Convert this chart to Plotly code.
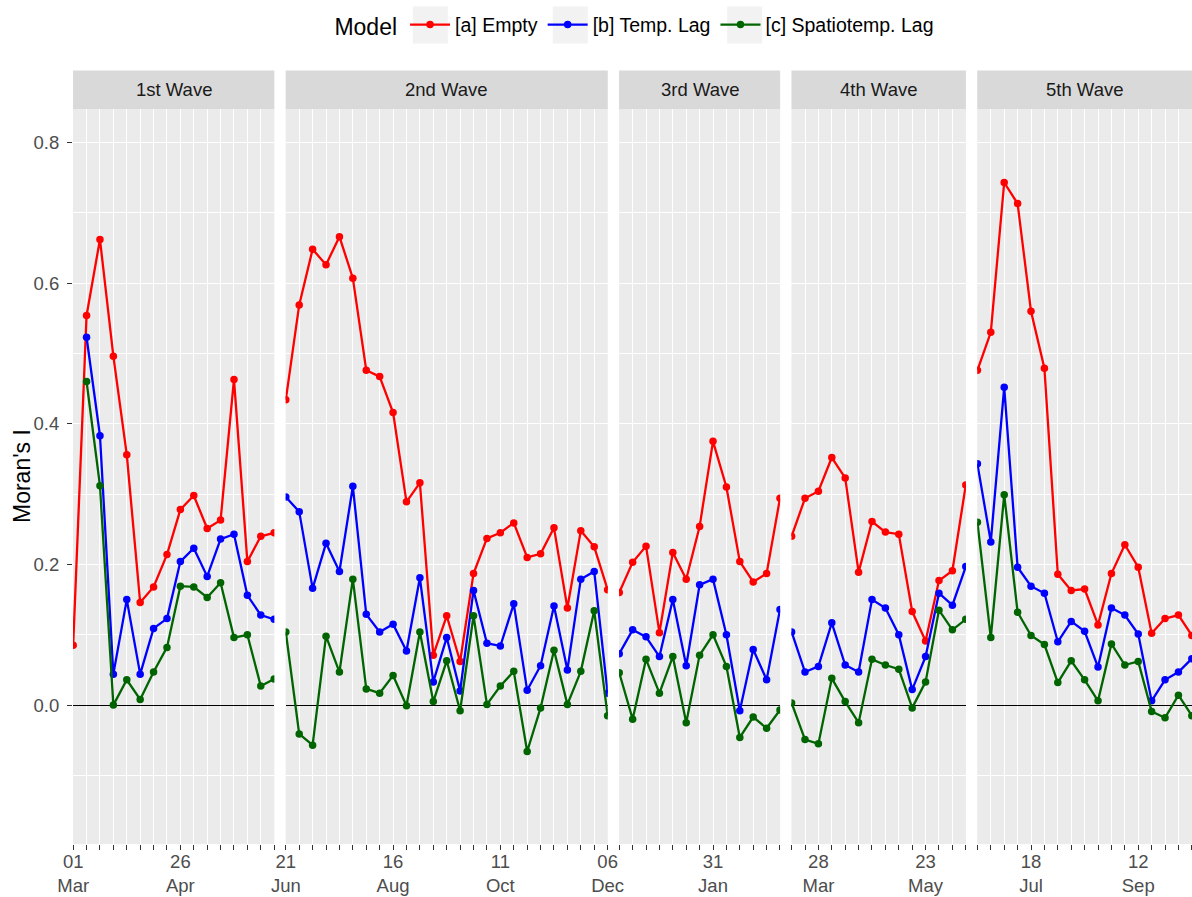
import pandas as pd
import plotly.graph_objects as go

# ---------------- data ----------------
wave_names = ["1st Wave", "2nd Wave", "3rd Wave", "4th Wave", "5th Wave"]
wave_starts = ["2020-03-01", "2020-06-21", "2020-12-13", "2021-03-14", "2021-06-20"]

empty_1 = [0.085, 0.554, 0.662, 0.496, 0.356, 0.146, 0.168, 0.214, 0.278, 0.298, 0.251, 0.263, 0.463, 0.204, 0.240, 0.245]
temp_1 = [None, 0.523, 0.383, 0.044, 0.150, 0.044, 0.109, 0.123, 0.204, 0.223, 0.183, 0.236, 0.243, 0.156, 0.128, 0.122]
spat_1 = [None, 0.460, 0.312, 0.000, 0.036, 0.008, 0.047, 0.082, 0.169, 0.168, 0.153, 0.174, 0.096, 0.100, 0.027, 0.037]

empty_2 = [0.434, 0.569, 0.648, 0.626, 0.666, 0.607, 0.476, 0.467, 0.416, 0.289, 0.316, 0.071, 0.127, 0.062, 0.187, 0.237, 0.245, 0.259, 0.210, 0.215, 0.252, 0.138, 0.248, 0.225, 0.164]
temp_2 = [0.296, 0.275, 0.166, 0.230, 0.190, 0.311, 0.129, 0.104, 0.115, 0.077, 0.181, 0.033, 0.096, 0.020, 0.163, 0.088, 0.084, 0.144, 0.021, 0.056, 0.141, 0.050, 0.179, 0.190, 0.017]
spat_2 = [0.104, -0.041, -0.057, 0.098, 0.047, 0.179, 0.023, 0.017, 0.042, -0.001, 0.104, 0.005, 0.063, -0.008, 0.127, 0.001, 0.027, 0.048, -0.066, -0.004, 0.078, 0.001, 0.048, 0.134, -0.015]

empty_3 = [0.160, 0.203, 0.226, 0.103, 0.217, 0.179, 0.254, 0.375, 0.310, 0.204, 0.175, 0.187, 0.294]
temp_3 = [0.073, 0.107, 0.097, 0.069, 0.150, 0.056, 0.171, 0.179, 0.100, -0.008, 0.079, 0.036, 0.136]
spat_3 = [0.046, -0.020, 0.065, 0.017, 0.069, -0.025, 0.071, 0.100, 0.055, -0.046, -0.017, -0.033, -0.007]

empty_4 = [0.240, 0.294, 0.304, 0.352, 0.323, 0.189, 0.261, 0.246, 0.243, 0.133, 0.091, 0.177, 0.191, 0.313]
temp_4 = [0.104, 0.047, 0.055, 0.117, 0.057, 0.047, 0.150, 0.138, 0.100, 0.022, 0.069, 0.159, 0.142, 0.197]
spat_4 = [0.003, -0.049, -0.055, 0.038, 0.005, -0.025, 0.065, 0.057, 0.051, -0.004, 0.033, 0.135, 0.107, 0.122]

empty_5 = [0.476, 0.530, 0.743, 0.713, 0.560, 0.479, 0.186, 0.163, 0.165, 0.114, 0.187, 0.228, 0.196, 0.102, 0.123, 0.128, 0.099]
temp_5 = [0.343, 0.232, 0.452, 0.196, 0.169, 0.159, 0.090, 0.119, 0.105, 0.054, 0.138, 0.128, 0.101, 0.006, 0.036, 0.047, 0.066]
spat_5 = [0.260, 0.096, 0.299, 0.132, 0.099, 0.086, 0.032, 0.063, 0.036, 0.006, 0.087, 0.057, 0.062, -0.009, -0.018, 0.014, -0.015]

series_names = ["[a] Empty", "[b] Temp. Lag", "[c] Spatiotemp. Lag"]
series_colors = ["#FF0000", "#0000FF", "#006400"]
panel_data = [
    [empty_1, temp_1, spat_1],
    [empty_2, temp_2, spat_2],
    [empty_3, temp_3, spat_3],
    [empty_4, temp_4, spat_4],
    [empty_5, temp_5, spat_5],
]

label_dates = ["2020-03-01", "2020-04-26", "2020-06-21", "2020-08-16", "2020-10-11", "2020-12-06",
               "2021-01-31", "2021-03-28", "2021-05-23", "2021-07-18", "2021-09-12"]
label_texts = ["01<br>Mar", "26<br>Apr", "21<br>Jun", "16<br>Aug", "11<br>Oct", "06<br>Dec",
               "31<br>Jan", "28<br>Mar", "23<br>May", "18<br>Jul", "12<br>Sep"]

y_ticks = [0.0, 0.2, 0.4, 0.6, 0.8]
y_ticktext = ["0.0", "0.2", "0.4", "0.6", "0.8"]
y_minor = [-0.1, 0.1, 0.3, 0.5, 0.7]

# ---------------- layout geometry ----------------
W, H = 1192, 897
ML, MR, MT, MB = 72.5, 0, 108.6, 53.4
paper_w = W - ML - MR
plot_h = H - MT - MB
gap_px = 11.3
weeks = [len(d[0]) - 1 for d in panel_data]
px_week = (paper_w - gap_px * (len(weeks) - 1)) / sum(weeks)

label_map = {pd.Timestamp(d): t for d, t in zip(label_dates, label_texts)}

fig = go.Figure()
FONT = "Liberation Sans, Arial, sans-serif"


def px_to_paper_x(px):
    return (px - ML) / paper_w


def px_to_paper_y(py):
    return (H - MB - py) / plot_h


pos = 0.0
layout_axes = {}
shapes = []
annotations = []
for i, (name, start, data) in enumerate(zip(wave_names, wave_starts, panel_data)):
    n = len(data[0])
    dates = pd.date_range(start, periods=n, freq="7D")
    x0 = pos / paper_w
    x1 = (pos + weeks[i] * px_week) / paper_w
    pos += weeks[i] * px_week + gap_px
    ax = "" if i == 0 else str(i + 1)
    for s, (vals, sname, col) in enumerate(zip(data, series_names, series_colors)):
        fig.add_trace(go.Scatter(
            x=dates, y=vals, mode="lines+markers", name=sname,
            line=dict(color=col, width=2.3), marker=dict(color=col, size=7.5),
            legendgroup=sname, showlegend=(i == 0),
            xaxis="x" + ax, yaxis="y" + ax, connectgaps=False,
        ))
    tickvals = list(dates)
    ticktext = [label_map.get(d, "") for d in dates]
    eps = pd.Timedelta(hours=2)
    layout_axes["xaxis" + ax] = dict(
        domain=[x0, min(x1, 1.0)], anchor="y" + ax, type="date",
        range=[dates[0] - eps, dates[-1] + eps], automargin=False,
        tickmode="array", tickvals=tickvals, ticktext=ticktext,
        showgrid=True, gridcolor="white", gridwidth=1.3,
        ticks="outside", ticklen=5, tickwidth=1, tickcolor="#333333",
        ticklabelstandoff=-4,
        tickfont=dict(size=18.5, color="#4D4D4D", family=FONT),
        zeroline=False, showline=False, fixedrange=True,
    )
    yax = dict(
        domain=[0, 1], anchor="x" + ax, range=[-0.1975, 0.8475], automargin=False,
        tickmode="array", tickvals=y_ticks, ticktext=y_ticktext,
        showgrid=True, gridcolor="white", gridwidth=1.3,
        minor=dict(tickvals=y_minor, showgrid=True, gridcolor="white", gridwidth=0.7, ticks=""),
        zeroline=True, zerolinecolor="black", zerolinewidth=1.1,
        showline=False, fixedrange=True,
    )
    if i == 0:
        yax.update(ticks="outside", ticklen=5, tickwidth=1, tickcolor="#333333",
                   ticklabelstandoff=4,
                   tickfont=dict(size=18.5, color="#4D4D4D", family=FONT))
    else:
        yax.update(matches="y", showticklabels=False, ticks="")
    layout_axes["yaxis" + ax] = yax

    # facet strip
    strip_y0 = 1.0
    strip_y1 = px_to_paper_y(70)
    shapes.append(dict(type="rect", xref="x" + ax + " domain", yref="paper",
                       x0=0, x1=1, y0=strip_y0, y1=strip_y1,
                       fillcolor="#D9D9D9", line=dict(width=0), layer="above"))
    annotations.append(dict(text=name, xref="x" + ax + " domain", yref="paper",
                            x=0.5, y=(strip_y0 + strip_y1) / 2, xanchor="center", yanchor="middle",
                            showarrow=False, font=dict(size=18.5, color="#1A1A1A", family=FONT)))

# grey legend key backgrounds (ggplot style), centred on the legend symbols
for cx in [430.0, 570.0, 744.5]:
    shapes.append(dict(type="rect", xref="paper", yref="paper",
                       x0=px_to_paper_x(cx - 17.5), x1=px_to_paper_x(cx + 17.5),
                       y0=px_to_paper_y(43), y1=px_to_paper_y(6),
                       fillcolor="#F2F2F2", line=dict(width=0), layer="below"))

annotations.append(dict(text="Moran's I", xref="paper", yref="paper",
                        x=px_to_paper_x(21), y=0.5, xanchor="center", yanchor="middle",
                        textangle=-90, showarrow=False,
                        font=dict(size=23, color="black", family=FONT)))

fig.update_layout(
    width=W, height=H,
    margin=dict(l=ML, r=MR, t=MT, b=MB, pad=0, autoexpand=False),
    paper_bgcolor="white", plot_bgcolor="#EBEBEB",
    font=dict(family=FONT, color="black"),
    showlegend=True,
    legend=dict(
        orientation="h", x=px_to_paper_x(332), xanchor="left",
        y=px_to_paper_y(25), yanchor="middle",
        title=dict(text="Model", font=dict(size=23, color="black", family=FONT), side="left"),
        font=dict(size=19.5, color="black", family=FONT),
        itemwidth=40, bgcolor="rgba(0,0,0,0)",
    ),
    shapes=shapes, annotations=annotations,
    **layout_axes,
)

fig.write_html("out.html", config={"displayModeBar": False},
               post_script="document.body.style.margin='0px';document.body.style.overflow='hidden';")
